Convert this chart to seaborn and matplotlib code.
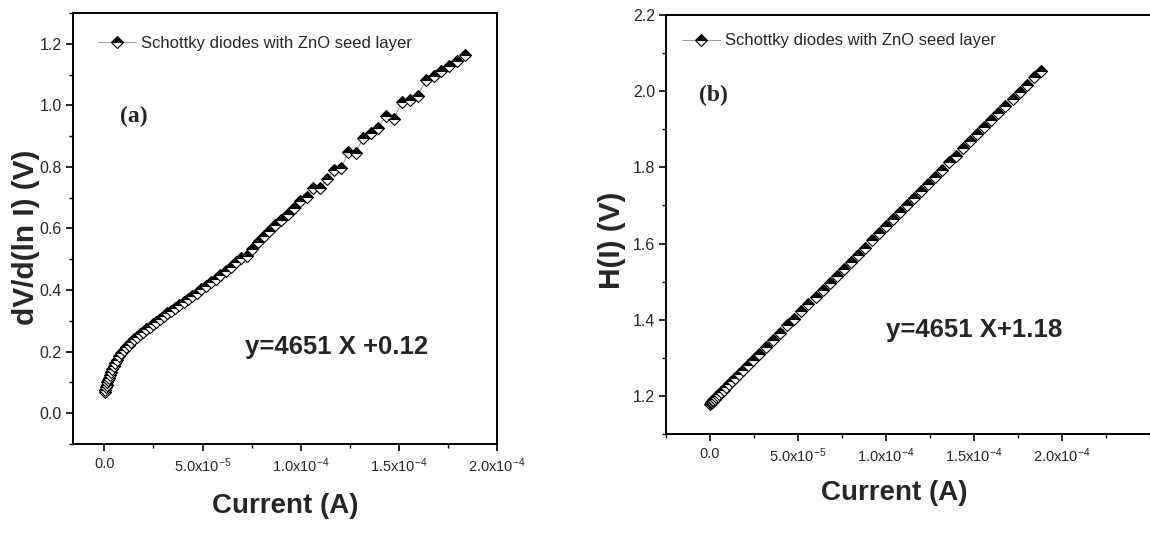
import numpy as np
import pandas as pd
import matplotlib
matplotlib.use("Agg")
import matplotlib.pyplot as plt
import matplotlib.ticker as mticker
from matplotlib import font_manager
import seaborn as sns

# ---------------- data ----------------
# panel (a): current in microamps, dV/d(ln I) in volts
current_a_uA = [0.2, 0.5, 0.8, 1.1, 1.5, 1.9, 2.4, 2.9, 3.5, 4.1, 4.8, 5.6, 6.5, 7.5,
                8.6, 9.8, 11.0, 12.3, 13.7, 15.1, 16.6, 18.1, 19.7, 21.3, 23.0, 24.7,
                26.5, 28.3, 30.2, 32.1, 34.1, 36.1, 38.2, 40.3, 42.5, 44.7, 47.0, 49.3,
                51.7, 54.1, 56.6, 59.1, 61.7, 64.3, 67.0, 69.7, 72.5, 75.3, 78.2, 81.1,
                84.1, 87.1, 90.2, 93.3, 96.5, 99.8, 103.1, 106.5, 109.9, 113.4, 117.0,
                120.6, 124.3, 128.0, 131.8, 135.6, 139.5, 143.4, 147.4, 151.4, 155.5,
                159.6, 163.8, 167.8, 171.7, 175.7, 179.7, 183.8]
dvdlni = [0.068, 0.076, 0.084, 0.091, 0.100, 0.107, 0.116, 0.125, 0.135, 0.144, 0.154,
          0.164, 0.174, 0.185, 0.195, 0.205, 0.214, 0.222, 0.231, 0.240, 0.248, 0.256,
          0.264, 0.272, 0.281, 0.289, 0.297, 0.306, 0.315, 0.324, 0.333, 0.343, 0.352,
          0.362, 0.372, 0.382, 0.392, 0.402, 0.413, 0.425, 0.437, 0.449, 0.461, 0.474,
          0.490, 0.503, 0.512, 0.535, 0.555, 0.575, 0.592, 0.610, 0.628, 0.648, 0.668,
          0.688, 0.703, 0.730, 0.731, 0.760, 0.790, 0.796, 0.848, 0.846, 0.893, 0.910,
          0.928, 0.965, 0.957, 1.010, 1.018, 1.032, 1.081, 1.094, 1.110, 1.127, 1.143,
          1.162]

# panel (b): current in microamps, H(I) in volts
current_b_uA = [0.0, 0.3, 0.6, 1.0, 1.5, 2.0, 2.7, 3.5, 4.4, 5.4, 6.5, 7.8, 9.2, 10.8,
                12.5, 14.4, 16.5, 18.8, 21.5, 24.5, 28.0, 32, 36, 40, 44, 48, 52, 56, 60,
                64, 68, 72, 76, 80, 84, 88, 92, 96, 100, 104, 108, 112, 116, 120, 124,
                128, 132, 136, 140, 144, 148, 152, 156, 160, 164, 168, 172, 176, 180,
                184, 188]
h_of_i = [1.180, 1.181, 1.183, 1.185, 1.187, 1.189, 1.193, 1.196, 1.200, 1.205, 1.210,
          1.216, 1.223, 1.230, 1.238, 1.247, 1.257, 1.267, 1.280, 1.294, 1.310, 1.329,
          1.347, 1.366, 1.385, 1.403, 1.422, 1.440, 1.459, 1.478, 1.496, 1.515, 1.533,
          1.552, 1.571, 1.589, 1.608, 1.627, 1.645, 1.664, 1.682, 1.701, 1.720, 1.738,
          1.757, 1.775, 1.794, 1.813, 1.831, 1.850, 1.868, 1.887, 1.906, 1.924, 1.943,
          1.961, 1.980, 1.999, 2.017, 2.036, 2.054]

x_ticks = [0.0, 5e-5, 1e-4, 1.5e-4, 2e-4]
legend_label = "Schottky diodes with ZnO seed layer"
x_label = "Current (A)"
y_label_a = "dV/d(ln I) (V)"
y_label_b = "H(I) (V)"
panel_a = "(a)"
panel_b = "(b)"
eq_a = "y=4651 X +0.12"
eq_b = "y=4651 X+1.18"

# ---------------- style ----------------
sns.set_style("ticks")
plt.rcParams["font.family"] = ["Liberation Sans", "DejaVu Sans"]
plt.rcParams["mathtext.fontset"] = "custom"
plt.rcParams["mathtext.rm"] = "Liberation Sans"
plt.rcParams["mathtext.it"] = "Liberation Sans:italic"
plt.rcParams["mathtext.bf"] = "Liberation Sans:bold"
plt.rcParams["mathtext.default"] = "regular"
plt.rcParams["axes.unicode_minus"] = False

names = {f.name for f in font_manager.fontManager.ttflist}
if "Liberation Sans Narrow" in names:
    xlab_family, xlab_size = ["Liberation Sans Narrow", "Liberation Sans"], 24
else:
    xlab_family, xlab_size = ["Liberation Sans", "DejaVu Sans"], 20

fig = plt.figure(figsize=(11.5, 5.36), dpi=100)
W, H = 1150, 536


def px_axes(l, t, r, b):
    return fig.add_axes([l / W, 1 - b / H, (r - l) / W, (b - t) / H])


ax_a = px_axes(73, 13, 497, 444)
ax_b = px_axes(666, 15, 1155, 434)


def sci_fmt(v, pos):
    if abs(v) < 1e-12:
        return "0.0"
    e = int(np.floor(np.log10(abs(v)) + 1e-9))
    m = v / 10 ** e
    return f"{m:.1f}x10$^{{{e}}}$"


marker_kws = dict(marker="D", markersize=6.5, fillstyle="top",
                  markerfacecolor="black", markerfacecoloralt="white",
                  markeredgecolor="black", markeredgewidth=0.8,
                  color="#8a8a8a", linewidth=0.6)


def draw(ax, xs_uA, ys, ylim, ymajor, ylab, ylab_xy, xlab_xy, panel, panel_xy,
         eq, eq_xy, leg_xy, xlim):
    df = pd.DataFrame({"I": np.array(xs_uA) * 1e-6, "V": ys})
    sns.lineplot(data=df, x="I", y="V", ax=ax, estimator=None, sort=False,
                 legend=False, **marker_kws)
    ax.set_xlim(*xlim)
    ax.set_ylim(*ylim)
    ax.xaxis.set_major_locator(mticker.FixedLocator(x_ticks))
    ax.xaxis.set_minor_locator(mticker.MultipleLocator(2.5e-5))
    ax.xaxis.set_major_formatter(mticker.FuncFormatter(sci_fmt))
    ax.yaxis.set_major_locator(mticker.MultipleLocator(ymajor))
    ax.yaxis.set_minor_locator(mticker.MultipleLocator(ymajor / 2))
    ax.yaxis.set_major_formatter(mticker.FormatStrFormatter("%.1f"))
    for s in ax.spines.values():
        s.set_linewidth(1.4)
        s.set_color("black")
    ax.tick_params(axis="both", which="major", direction="out", length=5,
                   width=1.2, color="black")
    ax.tick_params(axis="both", which="minor", direction="out", length=3,
                   width=1.0, color="black")
    ax.tick_params(axis="x", which="major", labelsize=10.5, pad=4)
    ax.tick_params(axis="y", which="major", labelsize=11.5, pad=3)
    ax.set_xlabel(x_label, fontsize=xlab_size, fontweight="bold",
                  family=xlab_family)
    ax.set_ylabel(ylab, fontsize=21.5, fontweight="bold")
    ax.xaxis.set_label_coords(*xlab_xy)
    ax.yaxis.set_label_coords(*ylab_xy)
    ax.text(*panel_xy, panel, transform=ax.transAxes, ha="center", va="center",
            fontsize=17, fontweight="bold",
            family=["Liberation Serif", "DejaVu Serif"])
    ax.text(*eq_xy, eq, transform=ax.transAxes, ha="left", va="center",
            fontsize=18.5, fontweight="bold")
    h = ax.lines[0]
    ax.legend([h], [legend_label], loc="center left", bbox_to_anchor=leg_xy,
              frameon=False, fontsize=12, handlelength=2.3, handletextpad=0.25,
              borderpad=0, borderaxespad=0)


draw(ax_a, current_a_uA, dvdlni, (-0.1, 1.3), 0.2, y_label_a, (-0.078, 0.48),
     (0.5, -0.114), panel_a, (0.144, 0.761), eq_a, (0.406, 0.225),
     (0.059, 0.930), (-1.6e-5, 2.0e-4))
draw(ax_b, current_b_uA, h_of_i, (1.1, 2.2), 0.2, y_label_b, (-0.082, 0.463),
     (0.466, -0.110), panel_b, (0.098, 0.809), eq_b, (0.450, 0.248),
     (0.033, 0.938), (-2.5e-5, 2.53e-4))

fig.savefig("out.png", dpi=100)
